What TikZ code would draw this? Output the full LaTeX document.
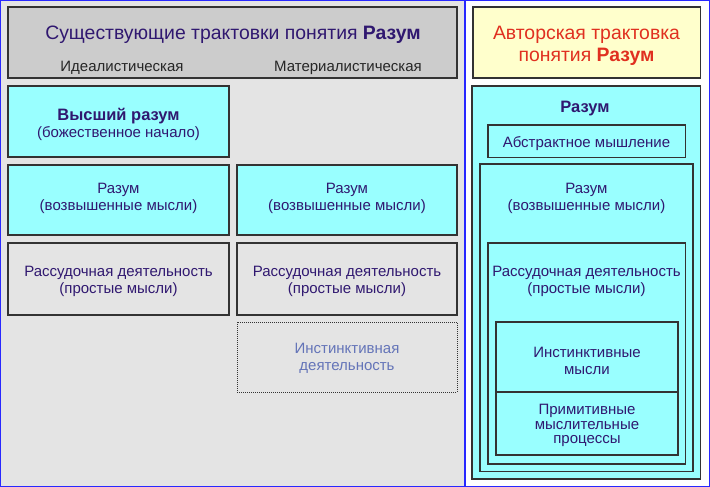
\documentclass[tikz,border=0pt]{standalone}
\usepackage{fontspec}
\setmainfont{Liberation Sans}
\definecolor{ink}{RGB}{48,24,112}
\definecolor{aqua}{RGB}{153,255,255}
\definecolor{panelgray}{RGB}{228,228,228}
\definecolor{headgray}{RGB}{204,204,204}
\definecolor{cream}{RGB}{255,255,204}
\definecolor{authred}{RGB}{224,48,32}
\definecolor{frameblue}{RGB}{40,40,255}
\definecolor{faint}{RGB}{100,116,184}
\tikzset{
  box/.style={draw=black!80, line width=1.1pt},
  label/.style={text=ink, align=center, font=\fontsize{15}{17}\selectfont},
  title/.style={text=ink, font=\fontsize{19.4}{22}\selectfont},
  sub/.style={text=black!85, font=\fontsize{15}{17}\selectfont}
}
\begin{document}
\begin{tikzpicture}[x=1pt, y=-1pt]
            \useasboundingbox (0,0) rectangle (710,487);
            % Panels
            \draw[frameblue, fill=panelgray, line width=1.2pt] (0.6,0.6) rectangle (464.4,486.4);
            \draw[frameblue, fill=white, line width=1.2pt] (465.6,0.6) rectangle (709.4,486.4);

            % Existing interpretations
            \draw[box, fill=headgray] (8,7) rectangle (457,78);
            \node[title] (existing) at (233,34.5) {Существующие трактовки понятия \textbf{Разум}};
            \node[sub] (ideal) at (122,68) {Идеалистическая};
            \node[sub] (mater) at (348,68) {Материалистическая};

            % Idealistic column
            \draw[box, fill=aqua] (8,86) rectangle (229,157);
            \node[label] (higher) at (118.5,124) {{\fontsize{16.5}{17}\selectfont\bfseries Высший разум}\\(божественное начало)};
            \draw[box, fill=aqua] (8,165) rectangle (229,235);
            \node[label] (reasonI) at (118.5,198) {Разум\\(возвышенные мысли)};
            \draw[box] (8,243) rectangle (229,315);
            \node[label] (ratioI) at (118.5,281.5) {Рассудочная деятельность\\(простые мысли)};

            % Materialistic column
            \draw[box, fill=aqua] (237,165) rectangle (457,235);
            \node[label] (reasonM) at (347,198) {Разум\\(возвышенные мысли)};
            \draw[box] (237,243) rectangle (457,315);
            \node[label] (ratioM) at (347,281.5) {Рассудочная деятельность\\(простые мысли)};
            \draw[black!80, densely dotted, line width=1pt] (237,322) rectangle (457,392);
            \node[label, text=faint] (instM) at (347,358.5) {Инстинктивная\\деятельность};

            % Author's interpretation
            \draw[box, fill=cream] (473,7) rectangle (700.5,78);
            \node[title, text=authred, align=center] (author) at (586.5,45.5) {Авторская трактовка\\понятия \textbf{Разум}};
            \draw[box, fill=aqua] (472,86) rectangle (700.5,479);
            \node[label, font=\fontsize{16.5}{17}\selectfont\bfseries] (mind) at (585,108.5) {Разум};
            \draw[box] (488,125) rectangle (685.5,157.5);
            \node[label] (abstract) at (586.5,144) {Абстрактное мышление};
            \draw[box] (480,164) rectangle (693,471.5);
            \node[label] (reasonA) at (586.5,198) {Разум\\(возвышенные мысли)};
            \draw[box] (488,243) rectangle (685.5,464);
            \node[label] (ratioA) at (586.5,281.5) {Рассудочная деятельность\\(простые мысли)};
            \draw[box] (496,322) rectangle (678,455);
            \draw[box] (496,392) -- (678,392);
            \node[label] (instA) at (587,360.5) {Инстинктивные\\мысли};
            \node[label, font=\fontsize{15}{14.5}\selectfont] (primA) at (587,425.5) {Примитивные\\мыслительные\\процессы};
        \end{tikzpicture}
\end{document}
